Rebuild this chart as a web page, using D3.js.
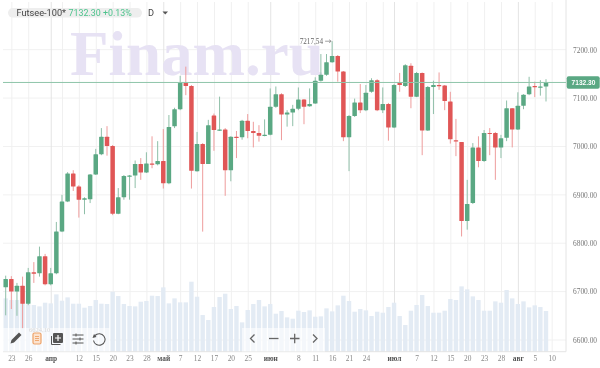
<!DOCTYPE html>
<html>
<head>
<meta charset="utf-8">
<script src="https://d3js.org/d3.v7.min.js"></script>
<style>
  html, body { margin: 0; padding: 0; background: #fff; overflow: hidden; }
  svg { display: block; filter: blur(0.45px); }
  .tick-text { font-family: "Liberation Serif", serif; font-size: 7.4px; fill: #777; }
</style>
</head>
<body>
<div id="chart"></div>
<script>
// daily candles
const opens = [6709,6726,6700,6712,6675,6740,6738,6773,6715,6738,
  6824,6886,6944,6917,6890,6891,6942,6984,7020,7001,
  6861,6895,6939,6940,6964,6946,6965,6963,6970,6924,
  7042,7077,7131,7125,6949,7005,6964,7064,7033,7035,
  6951,7020,7019,7053,7032,7028,7022,7024,7082,7108,
  7066,7070,7078,7097,7083,7089,7136,7148,7174,7187,
  7155,7019,7063,7091,7075,7113,7137,7075,7088,7039,
  7131,7125,7167,7103,7152,7033,7123,7127,7126,7093,
  7013,7009,6846,6883,6998,6970,7028,7028,6998,7018,
  7079,7035,7084,7108,7125,7122,7124];
const closes = [6726,6700,6712,6675,6740,6737,6773,6715,6738,6824,
  6886,6944,6917,6890,6893,6942,6984,7020,7001,6861,
  6895,6939,6940,6964,6946,6965,6962,6970,6924,7040,
  7077,7131,7125,6950,7005,6964,7044,7034,7035,6951,
  7020,7018,7053,7032,7028,7022,7024,7082,7108,7066,
  7070,7078,7097,7082,7088,7136,7148,7174,7187,7155,
  7019,7063,7091,7075,7111,7137,7075,7088,7039,7127,
  7127,7168,7103,7152,7033,7123,7127,7126,7094,7015,
  7011,6846,6881,6998,6970,7028,7026,6998,7017,7079,
  7035,7084,7107,7124,7123,7124,7132.3];
const highs = [6733,6732,6718,6731,6749,6761,6793,6778,6749,6844,
  6900,6947,6951,6920,6895,6943,6995,7038,7042,7003,
  6914,6941,6941,6971,6976,6988,7021,7011,7036,7065,
  7080,7146,7165,7127,7030,7007,7055,7068,7103,7038,
  7021,7032,7055,7067,7051,7044,7056,7120,7124,7110,
  7075,7086,7122,7098,7120,7143,7191,7191,7217.54,7189,
  7156,7065,7099,7129,7127,7141,7139,7122,7090,7129,
  7152,7170,7172,7154,7153,7125,7136,7153,7127,7113,
  7057,7009,6931,7007,7021,7034,7038,7030,7024,7095,
  7079,7112,7108,7144,7134,7137,7139];
const lows = [6651,6664,6650,6624,6672,6718,6731,6713,6713,6736,
  6823,6885,6908,6853,6860,6883,6941,6982,6981,6858,
  6860,6890,6890,6914,6931,6945,6955,6961,6913,6922,
  7038,7075,7106,6913,6948,6824,6964,6991,7032,6898,
  6928,6976,7014,7017,6998,7010,7021,7023,7080,7013,
  7041,7042,7075,7046,7082,7088,7134,7146,7173,7134,
  7011,6949,7061,7069,7073,7111,7073,7069,7012,7038,
  7113,7123,7079,7102,6982,7032,7067,7117,7075,7006,
  6980,6814,6828,6881,6957,6968,6982,6931,6976,7011,
  6998,7034,7077,7106,7102,7105,7093];
const volumes = [160,155,155,145,142,140,136,147,145,172,153,163,144,144,132,137,155,144,143,180,
  167,143,137,136,150,152,168,167,193,145,160,148,148,210,165,
  110,95,134,164,174,128,137,88,125,143,155,136,143,114,122,103,99,123,119,124,105,106,130,121,139,
  168,152,120,128,124,107,120,117,134,147,107,
  80,123,140,170,137,117,117,123,158,155,196,187,166,155,123,123,151,147,185,160,143,151,133,139,134,122];

// x axis: candle index of each tick, empty label where the picture shows only a line
const tickIndex = [1,4,8,10,13,16,19,22,25,28,31,34,37,40,43,47,52,55,58,61,64,67,69,73,76,79,82,85,88,91,94,97];
const tickLabels = ["23","26","апр","","12","15","20","23","28","май","7","12","17","20","25","июн","8","11","16","21","24","","июл","7","12","15","20","23","28","авг","5","10"];
const monthLabels = ["апр","май","июн","июл","авг"];
const priceTicks = [7200,7100,7000,6900,6800,6700,6600];
const lastPrice = 7132.3;
const maxPrice = 7217.54;

const up = "#5aa883", down = "#e05656";
const width = 600, height = 368, plotRight = 566, plotBottom = 351.7;

const x = d3.scaleLinear().domain([0, 96]).range([5.7, 546]);
const y = d3.scaleLinear().domain([7200, 6600]).range([49.7, 340]);
const v = d3.scaleLinear().domain([0, 210]).range([plotBottom, plotBottom - 70]);

const svg = d3.select("#chart").append("svg")
  .attr("width", width)
  .attr("height", height);

// grid
svg.append("g").selectAll("line")
  .data(priceTicks)
  .enter().append("line")
  .attr("x1", 3).attr("x2", plotRight)
  .attr("y1", d => y(d)).attr("y2", d => y(d))
  .attr("stroke", "#f1f1f1");

const xAxis = d3.axisBottom(x)
  .tickValues(tickIndex)
  .tickFormat((d, i) => tickLabels[i])
  .tickSize(0)
  .tickPadding(4);

const xg = svg.append("g")
  .attr("transform", "translate(0," + plotBottom + ")")
  .call(xAxis);
xg.select(".domain").remove();
xg.selectAll("text")
  .attr("class", "tick-text")
  .attr("font-weight", d => monthLabels.includes(tickLabels[tickIndex.indexOf(d)]) ? "bold" : null)
  .style("fill", d => monthLabels.includes(tickLabels[tickIndex.indexOf(d)]) ? "#555" : "#888");
xg.selectAll(".tick").append("line")
  .attr("y1", 0).attr("y2", -plotBottom + 2)
  .attr("stroke", d => monthLabels.includes(tickLabels[tickIndex.indexOf(d)]) ? "#e4e4e4" : "#f0f0f0");

// watermark
svg.append("text")
  .attr("x", 70).attr("y", 75)
  .attr("font-family", "Liberation Serif")
  .attr("font-weight", "bold")
  .attr("font-size", 63)
  .attr("fill", "#e7e2f4")
  .text("Finam.ru");

// volume
svg.append("g").selectAll("rect")
  .data(volumes)
  .enter().append("rect")
  .attr("x", (d, i) => x(i) - 2.2)
  .attr("y", d => v(d))
  .attr("width", 4.4)
  .attr("height", d => plotBottom - v(d))
  .attr("fill", "#e3ebf4");

// axis frame
svg.append("line").attr("x1", 3).attr("x2", plotRight).attr("y1", plotBottom).attr("y2", plotBottom).attr("stroke", "#e4e4e4");
svg.append("line").attr("x1", plotRight).attr("x2", plotRight).attr("y1", 0).attr("y2", plotBottom).attr("stroke", "#e4e4e4");

// candles
const candles = svg.append("g").selectAll("g")
  .data(d3.range(opens.length))
  .enter().append("g");
candles.append("line")
  .attr("x1", i => x(i)).attr("x2", i => x(i))
  .attr("y1", i => y(highs[i])).attr("y2", i => y(lows[i]))
  .attr("stroke", i => closes[i] >= opens[i] ? "#8fbfa8" : "#ee9c9c")
  .attr("stroke-width", 1);
candles.append("rect")
  .attr("x", i => x(i) - 2.25)
  .attr("y", i => y(Math.max(opens[i], closes[i])))
  .attr("width", 4.5)
  .attr("height", i => Math.max(1.2, Math.abs(y(opens[i]) - y(closes[i]))))
  .attr("rx", 0.5)
  .attr("fill", i => closes[i] >= opens[i] ? up : down);

// last price line
svg.append("line")
  .attr("x1", 3).attr("x2", plotRight)
  .attr("y1", y(lastPrice)).attr("y2", y(lastPrice))
  .attr("stroke", "#8fc5aa").attr("stroke-width", 1);

// price axis
const yAxis = d3.axisRight(y).tickValues(priceTicks).tickFormat(d3.format(".2f")).tickSize(0).tickPadding(7);
const yg = svg.append("g")
  .attr("transform", "translate(" + plotRight + ",0)")
  .call(yAxis);
yg.select(".domain").remove();
yg.selectAll("text").attr("class", "tick-text");

// last price badge
svg.append("rect")
  .attr("x", 566.7).attr("y", y(lastPrice) - 6.3)
  .attr("width", 33).attr("height", 12.6).attr("rx", 2)
  .attr("fill", up);
svg.append("text")
  .attr("x", 583.5).attr("y", y(lastPrice) + 2.4)
  .attr("text-anchor", "middle")
  .attr("font-family", "Liberation Sans")
  .attr("font-weight", "bold")
  .attr("font-size", 6.6)
  .attr("fill", "#fff")
  .text("7132.30");

// high marker
svg.append("text")
  .attr("x", 323).attr("y", y(maxPrice) + 2.4)
  .attr("text-anchor", "end")
  .attr("font-family", "Liberation Serif")
  .attr("font-size", 7.2)
  .attr("fill", "#666")
  .text("7217,54");
svg.append("path")
  .attr("d", "M" + (x(58) - 7) + "," + y(maxPrice) + "H" + (x(58) - 1) + "m-2,-1.5l2,1.5l-2,1.5")
  .attr("fill", "none").attr("stroke", "#888").attr("stroke-width", 0.8);

// header
svg.append("rect").attr("x", 8).attr("y", 8).attr("width", 134).attr("height", 9.6).attr("rx", 4.8).attr("fill", "#eeeeee");
const header = svg.append("text")
  .attr("x", 16.5).attr("y", 16.4)
  .attr("font-family", "Roboto")
  .attr("font-size", 9.2);
header.append("tspan").attr("fill", "#444").text("Futsee-100*");
header.append("tspan").attr("dx", 2.5).attr("fill", "#4cc38c").attr("font-size", 8.9).text("7132.30 +0.13%");
svg.append("text").attr("x", 148).attr("y", 16.4).attr("font-family", "Roboto").attr("font-size", 9.2).attr("fill", "#444").text("D");
svg.append("path").attr("d", "M162.5,11.5h5.5l-2.75,3z").attr("fill", "#555");

// low marker, mostly hidden by the toolbar
svg.append("text")
  .attr("x", 29).attr("y", 331.5)
  .attr("font-family", "Liberation Serif")
  .attr("font-size", 6.5)
  .attr("fill", "#999")
  .text("6624,10");

// toolbars
const tools = svg.append("g");
tools.append("rect").attr("x", 3).attr("y", 328).attr("width", 107).attr("height", 23.5).attr("fill", "#fff").attr("opacity", 0.6);
tools.append("rect").attr("x", 242).attr("y", 328).attr("width", 83).attr("height", 23.5).attr("fill", "#fff").attr("opacity", 0.6);

tools.append("path").attr("d", "M10.5,343.5l1,-3.5l7.5,-7.5l2.5,2.5l-7.5,7.5z").attr("fill", "#555");
tools.append("rect").attr("x", 33).attr("y", 333).attr("width", 8).attr("height", 11).attr("rx", 1.5).attr("fill", "#fbe3cf").attr("stroke", "#eea368").attr("stroke-width", 1.2);
tools.append("path").attr("d", "M35,336.5h4M35,338.5h4M35,340.5h4").attr("stroke", "#eea368").attr("stroke-width", 0.9);
tools.append("rect").attr("x", 53).attr("y", 333).attr("width", 10).attr("height", 10).attr("rx", 1).attr("fill", "#555");
tools.append("path").attr("d", "M58,335v6M55,338h6").attr("stroke", "#fff").attr("stroke-width", 1.2);
tools.append("path").attr("d", "M51.5,336v8.5h9").attr("fill", "none").attr("stroke", "#555");
tools.append("path").attr("d", "M72.5,335h11M72.5,339h11M72.5,343h11M76,333.5v3M80,337.5v3M76,341.5v3").attr("stroke", "#555").attr("stroke-width", 1).attr("fill", "none");
tools.append("path").attr("d", "M95,335.5a5.8,5.8 0 1 1 -1.5,5").attr("fill", "none").attr("stroke", "#555").attr("stroke-width", 1.1);
tools.append("path").attr("d", "M92.5,338l1.5,-4l2.5,3z").attr("fill", "#555");

tools.append("path").attr("d", "M254.5,334.5l-4,4l4,4").attr("fill", "none").attr("stroke", "#666").attr("stroke-width", 1.3);
tools.append("path").attr("d", "M269,338.5h9.5").attr("stroke", "#666").attr("stroke-width", 1.3);
tools.append("path").attr("d", "M290,338.5h9.5M294.7,333.7v9.5").attr("stroke", "#666").attr("stroke-width", 1.3);
tools.append("path").attr("d", "M313,334.5l4,4l-4,4").attr("fill", "none").attr("stroke", "#666").attr("stroke-width", 1.3);
</script>
</body>
</html>
